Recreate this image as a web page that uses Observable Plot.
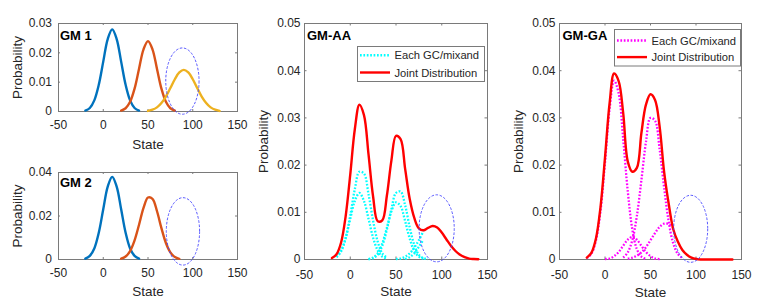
<!DOCTYPE html>
<html><head><meta charset="utf-8">
<script src="https://cdn.jsdelivr.net/npm/d3@7"></script>
<script src="https://cdn.jsdelivr.net/npm/@observablehq/plot@0.6"></script>
<style>
body{margin:0;background:#fff;}
#wrap{position:relative;width:763px;height:303px;overflow:hidden;font-family:"Liberation Sans",Arial,Helvetica,sans-serif;background:#fff;}
#wrap svg.lg{position:absolute;overflow:visible;}
</style></head><body><div id="wrap"></div>
<script>
const _ = null;
// common state grid
const states = [-20,-15,-10,-5,0,5,10,15,20,25,30,35,40,45,50,55,60,65,70,75,80,85,90,95,100,105,110,115,120,125,130,135,140];
const xTicks = [-50,0,50,100,150];
const yTicksGM1 = [0,0.01,0.02,0.03];
const yTicksGM2 = [0,0.02,0.04];
const yTicksMix = [0,0.01,0.02,0.03,0.04,0.05];

// GM 1 components
const gm1Blue   = [0.0003,0.0012,0.0038,0.0091,0.017,0.0247,0.028,0.0247,0.017,0.0091,0.0038,0.0012,0.0003,_,_,_,_,_,_,_,_,_,_,_,_,_,_,_,_,_,_,_,_];
const gm1Orange = [_,_,_,_,_,_,_,_,0.0003,0.0011,0.0033,0.0078,0.0146,0.0212,0.024,0.0212,0.0146,0.0078,0.0033,0.0011,0.0003,_,_,_,_,_,_,_,_,_,_,_,_];
const gm1Yellow = [_,_,_,_,_,_,_,_,_,_,_,_,_,_,0.0002,0.0006,0.0014,0.0029,0.0051,0.008,0.011,0.0133,0.0142,0.0133,0.011,0.008,0.0051,0.0029,0.0014,0.0006,0.0002,_,_];
// GM 2 components
const gm2Blue   = [0.0004,0.0017,0.0051,0.0123,0.0231,0.0335,0.038,0.0335,0.0231,0.0123,0.0051,0.0017,0.0004,_,_,_,_,_,_,_,_,_,_,_,_,_,_,_,_,_,_,_,_];
const gm2Orange = [_,_,_,_,_,_,_,_,0.0004,0.0014,0.0039,0.0088,0.016,0.0237,0.0285,0.0279,0.0223,0.0144,0.0076,0.0033,0.0011,0.0003,_,_,_,_,_,_,_,_,_,_,_];
// GM-AA
const aaJoint = [0.0003,0.0011,0.0036,0.0092,0.018,0.0276,0.0328,0.0306,0.0222,0.0133,0.0081,0.0083,0.0135,0.021,0.0262,0.0255,0.0192,0.0128,0.0088,0.0066,0.0062,0.0067,0.0071,0.0068,0.0057,0.0043,0.0029,0.0018,0.001,0.0005,0.0002,0.0001,0.00005];
const aaMixA = [_,0.0005,0.0017,0.0045,0.0093,0.0149,0.0186,0.0182,0.0138,0.0082,0.0038,0.0013,0.0004,_,_,_,_,_,_,_,_,_,_,_,_,_,_,_,_,_,_,_,_];
const aaMixB = [_,0.0006,0.0019,0.0046,0.0086,0.0124,0.0141,0.0124,0.0086,0.0046,0.0019,0.0006,0.0002,_,_,_,_,_,_,_,_,_,_,_,_,_,_,_,_,_,_,_,_];
const aaMixC = [_,_,_,_,_,_,_,_,0.0001,0.0003,0.001,0.0029,0.0063,0.0107,0.0141,0.0144,0.0115,0.0068,0.0031,0.001,0.0003,0.0001,_,_,_,_,_,_,_,_,_,_,_];
const aaMixD = [_,_,_,_,_,_,_,_,0.0001,0.0004,0.0013,0.0034,0.0067,0.0102,0.0121,0.0113,0.0081,0.0044,0.0018,0.0006,0.0002,_,_,_,_,_,_,_,_,_,_,_,_];
const aaMixE = [_,_,_,_,_,_,_,_,_,_,_,_,_,_,0.0001,0.0002,0.0006,0.0013,0.0025,0.0041,0.006,_,_,_,_,_,_,_,_,_,_,_,_];
const aaMixF = [_,_,_,_,_,_,_,_,_,_,_,_,_,_,_,_,0.0001,0.0005,0.0013,0.0027,0.0042,_,_,_,_,_,_,_,_,_,_,_,_];
// GM-GA
const gaJoint = [0.0004,0.0014,0.0044,0.011,0.0216,0.033,0.0394,0.0378,0.031,0.0208,0.0186,0.0194,0.0268,0.0328,0.035,0.0338,0.0282,0.0185,0.0118,0.0064,0.0038,0.002,0.001,0.0004,0.0001,0,0,0,0,0,0,0,0];
const gaMix1 = [0.0003,0.0012,0.004,0.0102,0.0205,0.0318,0.0379,0.0352,0.0255,0.0145,0.0064,0.0022,0.0006,0.0001,_,_,_,_,_,_,_,_,_,_,_,_,_,_,_,_,_,_,_];
const gaMix2 = [_,_,_,_,_,_,_,_,0.0004,0.0015,0.0041,0.0092,0.0168,0.0249,0.03,0.0294,0.0234,0.0152,0.008,0.0034,0.0012,0.0003,_,_,_,_,_,_,_,_,_,_,_];
const gaMix3 = [_,_,_,_,0.0001,0.0002,0.0007,0.0016,0.0029,0.0042,0.0048,0.0042,0.0029,0.0016,0.0007,0.0002,0.0001,_,_,_,_,_,_,_,_,_,_,_,_,_,_,_,_];
const gaMix4 = [_,_,_,_,_,_,_,_,_,0.0002,0.0004,0.0008,0.0015,0.0026,0.0041,0.0056,0.0069,0.0076,0.0075,0.0067,_,_,_,_,_,_,_,_,_,_,_,_,_];

// dashed ellipse annotations: [center state, center prob, state radius, prob radius]
const ellGM1 = [89, 0.0102, 18.6, 0.0113];
const ellGM2 = [89.6, 0.0127, 18.6, 0.0155];
const ellAA  = [95, 0.0065, 19.2, 0.0071];
const ellGA  = [94.7, 0.0064, 18.7, 0.0071];

const titles = ["GM 1", "GM 2", "GM-AA", "GM-GA"];
const legendLabels = ["Each GC/mixand", "Joint Distribution"];

const AX = "#7a7a7a", TX = "#262626";
const C = {blue:"#0072BD", orange:"#D95319", yellow:"#EDB120", red:"#FF0000", cyan:"#00FFFF", magenta:"#FF00FF", ell:"#4646ff"};
const DOT = "1.7 1.7";

const rows = arr => states.map((s, i) => ({state: s, p: arr[i]})).filter(d => d.p != null);
const solid = (arr, color) => Plot.line(rows(arr), {x: "state", y: "p", stroke: color, strokeWidth: 2.4, curve: "catmull-rom"});
const dotted = (arr, color) => Plot.line(rows(arr), {x: "state", y: "p", stroke: color, strokeWidth: 2.3, strokeDasharray: DOT, strokeLinecap: "butt", strokeLinejoin: "miter", curve: "catmull-rom"});
const ellipseMark = e => (index, scales) => {
  const el = document.createElementNS("http://www.w3.org/2000/svg", "ellipse");
  const cx = scales.x(e[0]), cy = scales.y(e[1]);
  el.setAttribute("cx", cx); el.setAttribute("cy", cy);
  el.setAttribute("rx", Math.abs(scales.x(e[0] + e[2]) - cx));
  el.setAttribute("ry", Math.abs(scales.y(e[1] + e[3]) - cy));
  el.setAttribute("fill", "none"); el.setAttribute("stroke", C.ell);
  el.setAttribute("stroke-width", 0.9); el.setAttribute("stroke-dasharray", "2.6 1.6");
  return el;
};

function panel(o) {
  const [mt, mr, mb, ml] = o.margin;
  const iw = o.width - ml - mr, ih = o.height - mt - mb;
  const svg = Plot.plot({
    width: o.width, height: o.height,
    marginTop: mt, marginRight: mr, marginBottom: mb, marginLeft: ml,
    x: {domain: [-50, 150], label: null},
    y: {domain: [0, o.yMax], label: null},
    style: {background: "transparent", fontFamily: "'Liberation Sans', Arial, Helvetica, sans-serif", fontSize: "12px", color: TX, overflow: "visible"},
    marks: [
      Plot.frame({stroke: AX}),
      Plot.tickX(xTicks, {x: d => d, insetTop: ih - o.tick, stroke: AX}),
      Plot.tickX(xTicks, {x: d => d, insetBottom: ih - o.tick, stroke: AX}),
      Plot.tickY(o.yTicks, {y: d => d, insetRight: iw - o.tick, stroke: AX}),
      Plot.tickY(o.yTicks, {y: d => d, insetLeft: iw - o.tick, stroke: AX}),
      Plot.axisX(xTicks, {tickSize: 0, tickPadding: o.xPad, tickFormat: d => String(d), fontSize: 12, fill: TX, label: null}),
      Plot.axisY(o.yTicks, {tickSize: 0, tickPadding: o.yPad, tickFormat: d => String(d), fontSize: 12, fill: TX, label: null}),
      ...o.lines,
      ellipseMark(o.ell),
      Plot.text(["State"], {text: d => d, frameAnchor: "bottom", dy: o.xLabDy, lineAnchor: "bottom", textAnchor: "middle", fontSize: 13.5, fill: TX}),
      Plot.text(["Probability"], {text: d => d, frameAnchor: "left", rotate: -90, dx: -37, lineAnchor: "bottom", textAnchor: "middle", fontSize: 13.5, fill: TX}),
      Plot.text([o.title], {text: d => d, frameAnchor: "top-left", dx: o.tdx, dy: o.tdy, lineAnchor: "top", textAnchor: "start", fontWeight: "bold", fontSize: 13, fill: "#000"})
    ]
  });
  svg.style.position = "absolute";
  svg.style.left = o.left + "px";
  svg.style.top = o.top + "px";
  document.getElementById("wrap").appendChild(svg);
}

panel({left: 0, top: 0, width: 250, height: 152, margin: [23, 13, 41, 58], yMax: 0.03, yTicks: yTicksGM1, tick: 2,
  xPad: 9, yPad: 6.5, xLabDy: 37, tdx: 1.5, tdy: 7, title: titles[0], ell: ellGM1,
  lines: [solid(gm1Blue, C.blue), solid(gm1Orange, C.orange), solid(gm1Yellow, C.yellow)]});
panel({left: 0, top: 152, width: 250, height: 151, margin: [20, 13, 44, 58], yMax: 0.04, yTicks: yTicksGM2, tick: 2,
  xPad: 9, yPad: 6.5, xLabDy: 36, tdx: 1.5, tdy: 5.5, title: titles[1], ell: ellGM2,
  lines: [solid(gm2Blue, C.blue), solid(gm2Orange, C.orange)]});
panel({left: 250, top: 0, width: 250, height: 303, margin: [23, 13, 44, 54], yMax: 0.05, yTicks: yTicksMix, tick: 2.5,
  xPad: 10.5, yPad: 4, xLabDy: 36, tdx: 2.5, tdy: 7, title: titles[2], ell: ellAA,
  lines: [dotted(aaMixA, C.cyan), dotted(aaMixB, C.cyan), dotted(aaMixC, C.cyan), dotted(aaMixD, C.cyan), dotted(aaMixE, C.cyan), dotted(aaMixF, C.cyan), solid(aaJoint, C.red)]});
panel({left: 500, top: 0, width: 263, height: 303, margin: [23, 22, 44, 59], yMax: 0.05, yTicks: yTicksMix, tick: 2.5,
  xPad: 10.5, yPad: 4, xLabDy: 37, tdx: 3, tdy: 7, title: titles[3], ell: ellGA,
  lines: [dotted(gaMix1, C.magenta), dotted(gaMix2, C.magenta), dotted(gaMix3, C.magenta), dotted(gaMix4, C.magenta), solid(gaJoint, C.red)]});

// legends (inside the mixture panels)
function legend(left, top, w, h, row1, row2, color) {
  const ns = "http://www.w3.org/2000/svg";
  const s = document.createElementNS(ns, "svg");
  s.setAttribute("class", "lg");
  s.setAttribute("width", w); s.setAttribute("height", h);
  s.style.left = left + "px"; s.style.top = top + "px";
  const rect = document.createElementNS(ns, "rect");
  Object.entries({x: 0.5, y: 0.5, width: w - 1, height: h - 1, fill: "#fff", stroke: AX}).forEach(([k, v]) => rect.setAttribute(k, v));
  s.appendChild(rect);
  [[row1, color, DOT, legendLabels[0]], [row2, C.red, null, legendLabels[1]]].forEach(([y, col, dash, label]) => {
    const l = document.createElementNS(ns, "line");
    Object.entries({x1: 3, x2: 33, y1: y, y2: y, stroke: col, "stroke-width": 2.4}).forEach(([k, v]) => l.setAttribute(k, v));
    if (dash) l.setAttribute("stroke-dasharray", dash);
    s.appendChild(l);
    const t = document.createElementNS(ns, "text");
    t.setAttribute("x", 37.5); t.setAttribute("y", y + 4);
    t.setAttribute("font-size", "11.2px"); t.setAttribute("fill", TX);
    t.setAttribute("font-family", "'Liberation Sans', Arial, Helvetica, sans-serif");
    t.textContent = label;
    s.appendChild(t);
  });
  document.getElementById("wrap").appendChild(s);
}
legend(356.5, 45.8, 128, 36, 9.2, 26.5, C.cyan);
legend(614, 29.2, 127, 37.5, 11.5, 28.1, C.magenta);
</script></body></html>
